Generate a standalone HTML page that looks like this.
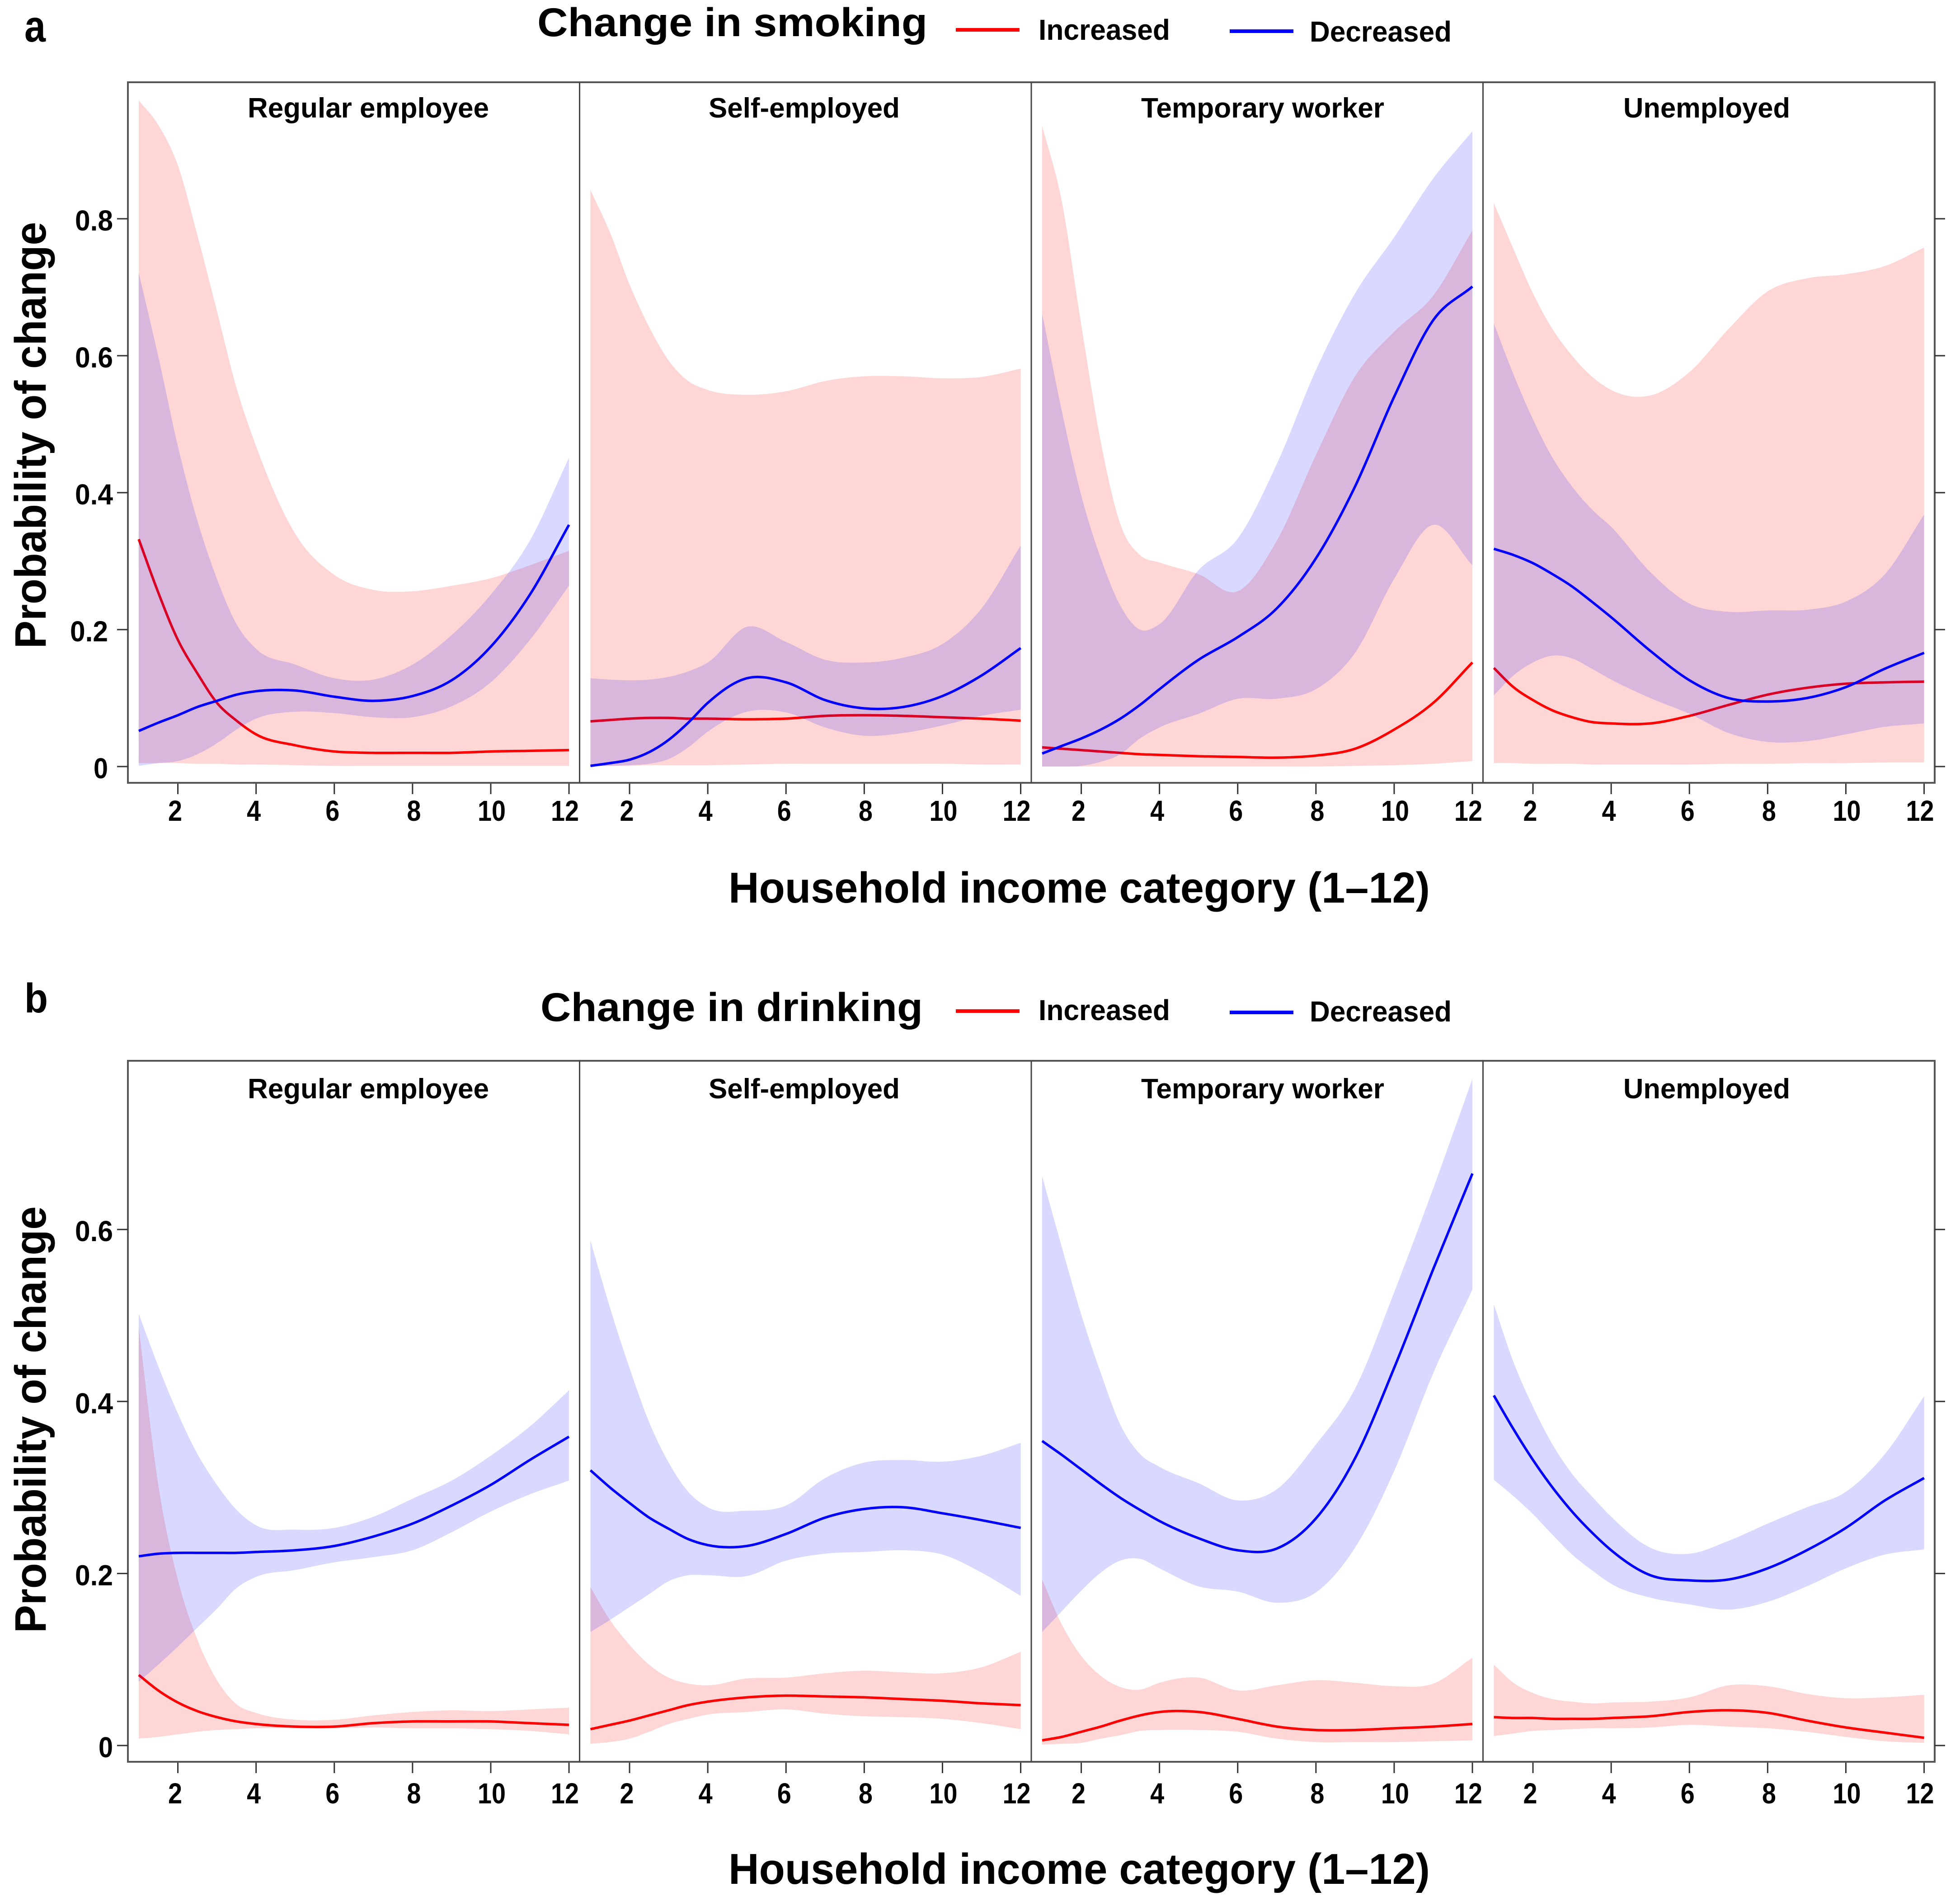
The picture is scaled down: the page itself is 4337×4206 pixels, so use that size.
<!DOCTYPE html>
<html lang="en">
<head>
<meta charset="utf-8">
<title>Change in smoking and drinking by household income</title>
<style>
html,body{margin:0;padding:0;background:#fff;}
svg{display:block;}
text{font-family:"Liberation Sans",Arial,sans-serif;font-weight:bold;fill:#000;}
</style>
</head>
<body>
<svg id="fig" xmlns="http://www.w3.org/2000/svg" width="4337" height="4206" viewBox="0 0 4337 4206">
<rect x="0" y="0" width="4337" height="4206" fill="#fff"/>
<text x="54" y="92" font-size="98" textLength="47" lengthAdjust="spacingAndGlyphs">a</text>
<text x="54" y="2240" font-size="92" textLength="52" lengthAdjust="spacingAndGlyphs">b</text>
<text x="1189" y="80" font-size="89" textLength="863" lengthAdjust="spacingAndGlyphs">Change in smoking</text>
<text x="1196" y="2259" font-size="89" textLength="846" lengthAdjust="spacingAndGlyphs">Change in drinking</text>
<line x1="2115" x2="2256" y1="66" y2="66" stroke="#ff0000" stroke-width="8"/>
<text x="2298" y="88" font-size="64" textLength="291" lengthAdjust="spacingAndGlyphs">Increased</text>
<line x1="2721" x2="2862" y1="69" y2="69" stroke="#0000ff" stroke-width="8"/>
<text x="2898" y="92" font-size="64" textLength="314" lengthAdjust="spacingAndGlyphs">Decreased</text>
<line x1="2115" x2="2256" y1="2237" y2="2237" stroke="#ff0000" stroke-width="8"/>
<text x="2298" y="2257" font-size="64" textLength="291" lengthAdjust="spacingAndGlyphs">Increased</text>
<line x1="2721" x2="2862" y1="2240" y2="2240" stroke="#0000ff" stroke-width="8"/>
<text x="2898" y="2260" font-size="64" textLength="314" lengthAdjust="spacingAndGlyphs">Decreased</text>
<text transform="translate(101,1435) rotate(-90)" font-size="97" textLength="944" lengthAdjust="spacingAndGlyphs">Probability of change</text>
<text transform="translate(101,3613) rotate(-90)" font-size="97" textLength="944" lengthAdjust="spacingAndGlyphs">Probability of change</text>
<text x="1612" y="1997" font-size="96" textLength="1552" lengthAdjust="spacingAndGlyphs">Household income category (1–12)</text>
<text x="1612" y="4168" font-size="96" textLength="1552" lengthAdjust="spacingAndGlyphs">Household income category (1–12)</text>
<g id="plots"></g>
</svg>
<script>
// ---------- data (probabilities) ----------
const incomeGrid = [1,1.5,2,2.5,3,3.5,4,5,6,7,8,9,10,11,12];
const xTickValues = [2,4,6,8,10,12];
const panelLabels = ['Regular employee','Self-employed','Temporary worker','Unemployed'];
const smokingYTicks = [0,0.2,0.4,0.6,0.8];
const drinkingYTicks = [0,0.2,0.4,0.6];

// Smoking — regular employee
const smokeRegIncHi = [.973,.937,.878,.776,.665,.553,.468,.340,.280,.258,.256,.264,.275,.294,.315];
const smokeRegIncLo = [.005,.005,.005,.004,.004,.003,.003,.002,.001,.001,.001,.001,.001,.001,.001];
const smokeRegIncMid = [.332,.254,.185,.136,.093,.067,.047,.031,.022,.020,.020,.020,.022,.023,.024];
const smokeRegDecHi = [.721,.599,.468,.359,.274,.208,.172,.149,.129,.127,.149,.192,.251,.330,.451];
const smokeRegDecLo = [.001,.005,.008,.018,.034,.054,.070,.080,.078,.072,.072,.088,.123,.185,.264];
const smokeRegDecMid = [.052,.064,.075,.087,.096,.105,.110,.111,.102,.096,.103,.126,.175,.251,.353];
// Smoking — self-employed
const smokeSelfIncHi = [.842,.780,.704,.642,.593,.563,.550,.543,.548,.563,.570,.570,.567,.569,.581];
const smokeSelfIncLo = [.001,.001,.001,.002,.002,.002,.002,.003,.004,.004,.004,.004,.004,.003,.003];
const smokeSelfIncMid = [.066,.068,.070,.071,.071,.070,.070,.069,.070,.074,.075,.074,.072,.070,.067];
const smokeSelfDecHi = [.129,.127,.126,.127,.131,.139,.152,.204,.182,.156,.152,.159,.179,.231,.323];
const smokeSelfDecLo = [.001,.001,.002,.004,.011,.028,.051,.080,.079,.057,.045,.049,.060,.074,.083];
const smokeSelfDecMid = [.001,.005,.010,.021,.039,.064,.093,.129,.123,.097,.085,.087,.103,.133,.173];
// Smoking — temporary worker
const smokeTempIncHi = [.936,.826,.645,.474,.354,.309,.298,.281,.256,.330,.455,.570,.635,.688,.783];
const smokeTempIncLo = [0,0,0,0,0,0,0,0,0,0,0,.001,.002,.004,.008];
const smokeTempIncMid = [.028,.026,.024,.022,.020,.018,.017,.015,.014,.013,.016,.026,.054,.093,.152];
const smokeTempDecHi = [.662,.520,.396,.304,.235,.200,.208,.287,.333,.442,.579,.691,.773,.859,.928];
const smokeTempDecLo = [0,0,.001,.007,.018,.041,.057,.077,.099,.099,.113,.166,.274,.353,.294];
const smokeTempDecMid = [.019,.030,.041,.054,.070,.090,.113,.156,.189,.231,.304,.409,.540,.652,.701];
// Smoking — unemployed
const smokeUnempIncHi = [.823,.756,.691,.639,.600,.570,.550,.542,.576,.639,.694,.713,.719,.731,.758];
const smokeUnempIncLo = [.005,.005,.004,.004,.004,.003,.003,.003,.003,.004,.004,.005,.005,.006,.006];
const smokeUnempIncMid = [.144,.116,.097,.082,.072,.065,.063,.063,.074,.090,.105,.115,.121,.123,.124];
const smokeUnempDecHi = [.647,.573,.507,.451,.409,.376,.350,.284,.238,.226,.228,.229,.241,.281,.368];
const smokeUnempDecLo = [.104,.133,.152,.162,.158,.143,.127,.100,.077,.049,.036,.037,.047,.058,.063];
const smokeUnempDecMid = [.318,.309,.297,.281,.263,.241,.218,.169,.126,.100,.095,.100,.116,.143,.166];

// Drinking — regular employee
const drinkRegIncHi = [.486,.303,.193,.123,.076,.048,.038,.030,.030,.035,.039,.041,.040,.042,.044];
const drinkRegIncLo = [.008,.010,.013,.016,.018,.019,.020,.020,.020,.021,.020,.020,.019,.017,.013];
const drinkRegIncMid = [.082,.064,.050,.040,.033,.028,.025,.022,.022,.026,.028,.028,.028,.026,.024];
const drinkRegDecHi = [.502,.441,.386,.339,.303,.274,.256,.251,.253,.266,.287,.308,.337,.371,.413];
const drinkRegDecLo = [.074,.094,.115,.137,.159,.183,.196,.204,.213,.219,.227,.248,.272,.292,.308];
const drinkRegDecMid = [.220,.223,.224,.224,.224,.224,.225,.227,.232,.243,.258,.279,.303,.332,.359];
// Drinking — self-employed
const drinkSelfIncHi = [.184,.146,.117,.094,.079,.072,.070,.078,.079,.084,.087,.085,.084,.091,.109];
const drinkSelfIncLo = [.002,.004,.008,.016,.025,.031,.036,.039,.042,.037,.034,.033,.031,.026,.019];
const drinkSelfIncMid = [.019,.024,.029,.035,.041,.047,.051,.056,.058,.057,.056,.054,.052,.049,.047];
const drinkSelfDecHi = [.587,.509,.439,.376,.329,.295,.277,.273,.279,.311,.329,.332,.330,.337,.352];
const drinkSelfDecLo = [.132,.146,.161,.176,.191,.198,.198,.197,.215,.223,.225,.227,.222,.201,.174];
const drinkSelfDecMid = [.320,.300,.282,.265,.252,.240,.233,.232,.246,.265,.275,.277,.270,.262,.253];
// Drinking — temporary worker
const drinkTempIncHi = [.193,.141,.104,.081,.068,.065,.073,.079,.064,.070,.076,.073,.069,.072,.102];
const drinkTempIncLo = [.001,.002,.003,.008,.012,.017,.018,.018,.016,.008,.004,.004,.004,.005,.006];
const drinkTempIncMid = [.006,.010,.016,.022,.029,.035,.039,.039,.031,.022,.018,.018,.020,.022,.025];
const drinkTempDecHi = [.662,.580,.501,.433,.373,.339,.324,.305,.285,.298,.350,.415,.527,.648,.775];
const drinkTempDecLo = [.132,.156,.180,.201,.215,.217,.206,.185,.179,.166,.178,.230,.319,.433,.530];
const drinkTempDecMid = [.354,.338,.321,.304,.288,.274,.261,.241,.227,.229,.264,.334,.439,.554,.665];
// Drinking — unemployed
const drinkUnempIncHi = [.094,.073,.061,.054,.051,.049,.050,.051,.056,.070,.069,.060,.055,.056,.059];
const drinkUnempIncLo = [.011,.014,.017,.018,.019,.020,.020,.021,.024,.022,.020,.016,.010,.005,.003];
const drinkUnempIncMid = [.033,.032,.032,.031,.031,.031,.032,.034,.039,.041,.038,.029,.021,.015,.009];
const drinkUnempDecHi = [.513,.446,.394,.350,.316,.290,.266,.230,.223,.238,.258,.277,.295,.339,.406];
const drinkUnempDecLo = [.309,.290,.269,.245,.222,.204,.188,.172,.164,.158,.167,.185,.206,.222,.228];
const drinkUnempDecMid = [.407,.368,.332,.300,.272,.248,.227,.198,.192,.193,.206,.227,.253,.285,.311];

const smokingSeries = [
  [smokeRegIncHi,smokeRegIncLo,smokeRegIncMid,smokeRegDecHi,smokeRegDecLo,smokeRegDecMid],
  [smokeSelfIncHi,smokeSelfIncLo,smokeSelfIncMid,smokeSelfDecHi,smokeSelfDecLo,smokeSelfDecMid],
  [smokeTempIncHi,smokeTempIncLo,smokeTempIncMid,smokeTempDecHi,smokeTempDecLo,smokeTempDecMid],
  [smokeUnempIncHi,smokeUnempIncLo,smokeUnempIncMid,smokeUnempDecHi,smokeUnempDecLo,smokeUnempDecMid]
];
const drinkingSeries = [
  [drinkRegIncHi,drinkRegIncLo,drinkRegIncMid,drinkRegDecHi,drinkRegDecLo,drinkRegDecMid],
  [drinkSelfIncHi,drinkSelfIncLo,drinkSelfIncMid,drinkSelfDecHi,drinkSelfDecLo,drinkSelfDecMid],
  [drinkTempIncHi,drinkTempIncLo,drinkTempIncMid,drinkTempDecHi,drinkTempDecLo,drinkTempDecMid],
  [drinkUnempIncHi,drinkUnempIncLo,drinkUnempIncMid,drinkUnempDecHi,drinkUnempDecLo,drinkUnempDecMid]
];

// ---------- drawing ----------
const NS = 'http://www.w3.org/2000/svg';
const root = document.getElementById('plots');
const PANEL_LEFT = 283, PANEL_RIGHT = 4281, PANEL_STEP = 999.5;
const X_ONE = 307, X_UNIT = 86.55;

function make(tag, attrs, parent) {
  const el = document.createElementNS(NS, tag);
  for (const k in attrs) el.setAttribute(k, attrs[k]);
  (parent || root).appendChild(el);
  return el;
}
function xScale(panelIndex, v) { return X_ONE + PANEL_STEP * panelIndex + (v - 1) * X_UNIT; }

// Cubic Hermite segments with spacing-weighted tangents, as Bézier path commands.
function segments(pts) {
  const n = pts.length, m = [];
  for (let i = 0; i < n; i++) {
    if (i === 0) { m.push((pts[1][1] - pts[0][1]) / (pts[1][0] - pts[0][0])); continue; }
    if (i === n - 1) { m.push((pts[i][1] - pts[i - 1][1]) / (pts[i][0] - pts[i - 1][0])); continue; }
    const h0 = pts[i][0] - pts[i - 1][0], h1 = pts[i + 1][0] - pts[i][0];
    const d0 = (pts[i][1] - pts[i - 1][1]) / h0, d1 = (pts[i + 1][1] - pts[i][1]) / h1;
    m.push((h1 * d0 + h0 * d1) / (h0 + h1));
  }
  let d = '';
  for (let i = 0; i < n - 1; i++) {
    const h = (pts[i + 1][0] - pts[i][0]) / 3;
    d += 'C' + (pts[i][0] + h).toFixed(1) + ' ' + (pts[i][1] + m[i] * h).toFixed(1) + ' ' +
         (pts[i + 1][0] - h).toFixed(1) + ' ' + (pts[i + 1][1] - m[i + 1] * h).toFixed(1) + ' ' +
         pts[i + 1][0].toFixed(1) + ' ' + pts[i + 1][1].toFixed(1);
  }
  return d;
}
function linePath(pts) { return 'M' + pts[0][0].toFixed(1) + ' ' + pts[0][1].toFixed(1) + segments(pts); }
function bandPath(upper, lower) {
  const rev = lower.slice().reverse();
  return linePath(upper) + 'L' + rev[0][0].toFixed(1) + ' ' + rev[0][1].toFixed(1) + segments(rev) + 'Z';
}

function drawRow(cfg) {
  const yScale = function (v) { return cfg.zeroY - v * cfg.unitY; };
  const rowName = cfg.name;
  const group = make('g', {});
  
  

  cfg.series.forEach(function (s, p) {
    const pts = function (vals) { return vals.map(function (v, i) { return [xScale(p, incomeGrid[i]), yScale(v)]; }); };
    const panel = make('g', {}, group);
    
    

    const incBand = make('path', { d: bandPath(pts(s[0]), pts(s[1])), fill: '#ff0000', 'fill-opacity': 0.16 }, panel);
    
    

    const incLine = make('path', { d: linePath(pts(s[2])), fill: 'none', stroke: '#ff0000', 'stroke-width': 5.5 }, panel);
    
    

    const decBand = make('path', { d: bandPath(pts(s[3]), pts(s[4])), fill: '#0000ff', 'fill-opacity': 0.15 }, panel);
    
    

    const decLine = make('path', { d: linePath(pts(s[5])), fill: 'none', stroke: '#0000ff', 'stroke-width': 5.5 }, panel);
    
    

    const strip = make('text', { x: cfg.stripX[p], y: cfg.stripY, 'font-size': 62, textLength: cfg.stripW[p], lengthAdjust: 'spacingAndGlyphs' }, panel);
    
    
    strip.textContent = panelLabels[p];

    xTickValues.forEach(function (t, k) {
      const tx = xScale(p, t);
      const tick = make('line', { x1: tx, x2: tx, y1: cfg.bottom, y2: cfg.bottom + 25, stroke: '#333', 'stroke-width': 3 }, panel);
      
      
      const label = String(t);
      const nudge = [-6, -5, -4, 3, 2, -9][k];
      const tl = make('text', { x: tx + nudge, y: cfg.bottom + cfg.xLabelGap, 'font-size': 64, 'text-anchor': 'middle', textLength: 31 * label.length, lengthAdjust: 'spacingAndGlyphs' }, panel);
      
      
      tl.textContent = label;
    });
  });

  const frame = make('rect', { x: PANEL_LEFT, y: cfg.top, width: PANEL_RIGHT - PANEL_LEFT, height: cfg.bottom - cfg.top, fill: 'none', stroke: '#555', 'stroke-width': 4 }, group);
  
  

  [1, 2, 3].forEach(function (i) {
    const dx = PANEL_LEFT + PANEL_STEP * i;
    const div = make('line', { x1: dx, x2: dx, y1: cfg.top, y2: cfg.bottom, stroke: '#444', 'stroke-width': 3 }, group);
    
    
  });

  cfg.yTicks.forEach(function (t) {
    const ty = yScale(t);
    const left = make('line', { x1: 259, x2: PANEL_LEFT, y1: ty, y2: ty, stroke: '#333', 'stroke-width': 3 }, group);
    
    
    const right = make('line', { x1: PANEL_RIGHT, x2: 4304, y1: ty, y2: ty, stroke: '#333', 'stroke-width': 3 }, group);
    
    
    const label = t === 0 ? '0' : t.toFixed(1);
    const endX = cfg.labelEnd(t);
    const yl = make('text', { x: endX, y: ty + 26, 'font-size': 64, 'text-anchor': 'end', textLength: label.length === 1 ? 32 : 84, lengthAdjust: 'spacingAndGlyphs' }, group);
    
    
    yl.textContent = label;
  });
}

drawRow({
  name: 'smoking', series: smokingSeries, yTicks: smokingYTicks,
  zeroY: 1696, unitY: 1515, top: 182, bottom: 1732, xLabelGap: 84,
  stripX: [548, 1568, 2525, 3592], stripW: [534, 423, 538, 369], stripY: 260,
  labelEnd: function (t) { return (t === 0 || t === 0.2) ? 239 : 250; }
});
drawRow({
  name: 'drinking', series: drinkingSeries, yTicks: drinkingYTicks,
  zeroY: 3862, unitY: 1903, top: 2347, bottom: 3898, xLabelGap: 92,
  stripX: [548, 1568, 2525, 3592], stripW: [534, 423, 538, 369], stripY: 2430,
  labelEnd: function () { return 250; }
});
</script>
</body>
</html>
